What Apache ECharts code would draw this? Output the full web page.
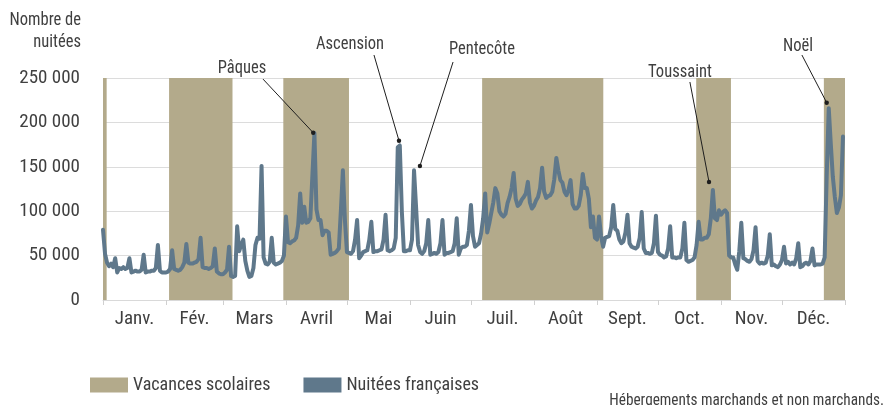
<!DOCTYPE html>
<html>
<head>
<meta charset="utf-8">
<script src="https://cdn.jsdelivr.net/npm/echarts@6/dist/echarts.min.js"></script>
<style>
  html, body { margin: 0; padding: 0; background: #ffffff; }
  #graphique { width: 886px; height: 405px; }
</style>
</head>
<body>
<div id="graphique"></div>
<script>
// Mois de l'année (2022) et libellés de l'axe horizontal
const mois = ['Janv.', 'Fév.', 'Mars', 'Avril', 'Mai', 'Juin', 'Juil.', 'Août', 'Sept.', 'Oct.', 'Nov.', 'Déc.'];
const joursParMois = [31, 28, 31, 30, 31, 30, 31, 31, 30, 31, 30, 31];

// Graduations de l'axe vertical
const graduationsY = [0, 50000, 100000, 150000, 200000, 250000];

// Nuitées françaises, une valeur par jour
const janvier = [79000, 52000, 42000, 38000, 41000, 37000, 47000, 31000, 36000, 35000, 37000, 35000, 36000, 47000, 31000, 32000, 33000, 32000, 32000, 34000, 51000, 31000, 32000, 32000, 33000, 33000, 36000, 62000, 33000, 31000, 31000];
const fevrier = [31000, 32000, 35000, 56000, 35000, 34000, 33000, 34000, 37000, 42000, 63000, 42000, 41000, 41000, 42000, 43000, 46000, 70000, 37000, 36000, 36000, 35000, 36000, 38000, 58000, 32000, 30000, 29000];
const mars = [29000, 31000, 34000, 60000, 27000, 26000, 27000, 83000, 55000, 62000, 68000, 44000, 33000, 26000, 27000, 36000, 62000, 70000, 69000, 151000, 48000, 41000, 40000, 43000, 70000, 42000, 40000, 41000, 42000, 44000, 50000];
const avril = [94000, 65000, 64000, 66000, 67000, 70000, 84000, 120000, 87000, 105000, 87000, 88000, 92000, 140000, 188000, 102000, 90000, 90000, 73000, 78000, 78000, 76000, 51000, 52000, 53000, 55000, 58000, 100000, 146000, 90000];
const mai = [54000, 53000, 52000, 55000, 68000, 90000, 47000, 50000, 54000, 55000, 56000, 68000, 88000, 54000, 55000, 55000, 56000, 57000, 68000, 96000, 56000, 55000, 56000, 58000, 70000, 172000, 174000, 100000, 55000, 55000, 56000];
const juin = [56000, 68000, 146000, 105000, 62000, 54000, 52000, 55000, 64000, 90000, 51000, 52000, 53000, 52000, 54000, 64000, 90000, 51000, 53000, 53000, 54000, 55000, 64000, 92000, 51000, 58000, 60000, 60000, 62000, 78000];
const juillet = [107000, 72000, 60000, 62000, 64000, 75000, 92000, 120000, 76000, 86000, 98000, 110000, 126000, 120000, 100000, 96000, 94000, 97000, 109000, 116000, 126000, 143000, 114000, 106000, 108000, 113000, 116000, 120000, 133000, 110000, 103000];
const aout = [106000, 112000, 116000, 126000, 149000, 122000, 115000, 117000, 118000, 122000, 136000, 160000, 146000, 135000, 132000, 122000, 118000, 124000, 135000, 108000, 103000, 103000, 106000, 118000, 142000, 126000, 126000, 114000, 82000, 94000, 70000];
const septembre = [68000, 94000, 72000, 60000, 70000, 71000, 72000, 82000, 107000, 80000, 78000, 68000, 64000, 66000, 76000, 96000, 64000, 60000, 59000, 58000, 60000, 70000, 99000, 58000, 53000, 53000, 52000, 53000, 64000, 95000];
const octobre = [54000, 51000, 50000, 48000, 49000, 58000, 83000, 48000, 48000, 47000, 48000, 48000, 58000, 87000, 45000, 43000, 44000, 45000, 48000, 62000, 88000, 68000, 68000, 70000, 70000, 74000, 92000, 124000, 92000, 90000, 101000];
const novembre = [96000, 99000, 101000, 98000, 50000, 48000, 48000, 40000, 34000, 55000, 87000, 47000, 46000, 44000, 43000, 46000, 56000, 82000, 44000, 41000, 42000, 41000, 42000, 50000, 74000, 39000, 40000, 38000, 37000, 40000];
const decembre = [45000, 60000, 41000, 43000, 40000, 42000, 40000, 47000, 64000, 37000, 38000, 41000, 42000, 40000, 44000, 58000, 39000, 40000, 40000, 40000, 41000, 48000, 140000, 216000, 176000, 139000, 116000, 98000, 104000, 118000, 184000];

// Périodes de vacances scolaires (jour de début, jour de fin, comptés depuis le 1er janvier)
const vacancesScolaires = [[0, 1.8], [32.5, 63.7], [88.7, 121], [186.5, 246.1], [291.8, 308.9], [354.6, 365]];

// Événements annotés : point repéré sur la courbe (jour, nuitées)
const evenements = ['Pâques', 'Ascension', 'Pentecôte', 'Toussaint', 'Noël'];
const evenementsJour = [103.4, 145.6, 155.9, 298.1, 356];
const evenementsValeur = [188400, 179400, 150900, 132900, 222200];

// Placement des étiquettes d'annotation, en unités des axes
const etiquettesJour = [68.4, 121.5, 186.4, 283.8, 341.9];
const etiquettesValeur = [261000, 288300, 282600, 256700, 286000];
const departsTraitJour = [78.7, 133.3, 172.2, 288.7, 343.8];
const departsTraitValeur = [248800, 275900, 268000, 245500, 275900];

const police = "'Roboto Condensed', 'Liberation Sans Narrow', 'Arial Narrow', Roboto, sans-serif";
const couleurTexte = '#404040';
const couleurVacances = '#b3aa8b';
const couleurCourbe = '#5f788b';
const serrage = 0.87; // resserrement horizontal des textes libres

const nuitees = [].concat(janvier, fevrier, mars, avril, mai, juin, juillet, aout, septembre, octobre, novembre, decembre);
const donneesCourbe = nuitees.map((v, i) => [i, v]);

// Débuts et milieux de mois sur l'axe des jours
const debutsMois = [0];
joursParMois.forEach((n, i) => debutsMois.push(debutsMois[i] + n));
const milieuxMois = joursParMois.map((n, i) => debutsMois[i] + n / 2);

const formatMilliers = v => String(v).replace(/\B(?=(\d{3})+(?!\d))/g, ' ');

const chart = echarts.init(document.getElementById('graphique'), null, { renderer: 'canvas' });

chart.setOption({
  animation: false,
  textStyle: { fontFamily: police },
  grid: { left: 103, right: 41, top: 78, bottom: 105, containLabel: false },
  legend: {
    left: 85,
    top: 371,
    icon: 'rect',
    itemWidth: 38,
    itemHeight: 15,
    itemGap: 33,
    selectedMode: false,
    textStyle: { fontFamily: police, fontSize: 18, color: couleurTexte },
    data: ['Vacances scolaires', 'Nuitées françaises']
  },
  xAxis: {
    type: 'value',
    min: 0,
    max: 365,
    splitLine: { show: false },
    axisLine: { show: true, lineStyle: { color: '#d9d9d9', width: 1 } },
    axisTick: { show: true, customValues: debutsMois, length: 5, lineStyle: { color: '#d0d0d0' } },
    axisLabel: {
      customValues: milieuxMois,
      formatter: v => mois[milieuxMois.indexOf(v)] || '',
      fontFamily: police,
      fontSize: 19,
      color: couleurTexte,
      margin: 10
    }
  },
  yAxis: {
    type: 'value',
    min: graduationsY[0],
    max: graduationsY[graduationsY.length - 1],
    interval: graduationsY[1] - graduationsY[0],
    axisLine: { show: false },
    axisTick: { show: false },
    splitLine: { lineStyle: { color: '#dcdcdc', width: 1 } },
    axisLabel: {
      formatter: formatMilliers,
      fontFamily: police,
      fontSize: 19,
      color: couleurTexte,
      margin: 23
    }
  },
  series: [
    {
      name: 'Vacances scolaires',
      type: 'line',
      data: [],
      z: 1,
      itemStyle: { color: couleurVacances },
      lineStyle: { color: couleurVacances },
      markArea: {
        silent: true,
        itemStyle: { color: couleurVacances, opacity: 1 },
        data: vacancesScolaires.map(p => [{ xAxis: p[0] }, { xAxis: p[1] }])
      }
    },
    {
      name: 'Nuitées françaises',
      type: 'line',
      z: 3,
      data: donneesCourbe,
      showSymbol: false,
      symbol: 'none',
      itemStyle: { color: couleurCourbe },
      lineStyle: { color: couleurCourbe, width: 4, join: 'round', cap: 'round' }
    }
  ]
});

// Textes libres : titre de l'axe vertical et source
const textesLibres = [
  {
    type: 'text', id: 'titreAxe', silent: true,
    x: 81, y: 9, scaleX: serrage,
    style: {
      text: 'Nombre de\nnuitées', align: 'right', verticalAlign: 'top',
      lineHeight: 22, fill: couleurTexte, fontFamily: police, fontSize: 19
    }
  },
  {
    type: 'text', id: 'source', silent: true,
    x: 884, y: 392, scaleX: 0.9,
    style: {
      text: 'Hébergements marchands et non marchands.', align: 'right', verticalAlign: 'top',
      fill: couleurTexte, fontFamily: police, fontSize: 17
    }
  }
];

// Annotations : trait de rappel, point et libellé, placés via l'échelle du graphique
const px = (j, v) => chart.convertToPixel({ gridIndex: 0 }, [j, v]);
const annotations = [];
evenements.forEach((nom, i) => {
  const point = px(evenementsJour[i], evenementsValeur[i]);
  const depart = px(departsTraitJour[i], departsTraitValeur[i]);
  const etiquette = px(etiquettesJour[i], etiquettesValeur[i]);
  annotations.push({
    type: 'line', id: 'trait' + i, z: 10, silent: true,
    shape: { x1: depart[0], y1: depart[1], x2: point[0], y2: point[1] },
    style: { stroke: '#1e1e1e', lineWidth: 1 }
  });
  annotations.push({
    type: 'circle', id: 'point' + i, z: 11, silent: true,
    shape: { cx: point[0], cy: point[1], r: 2.2 },
    style: { fill: '#1e1e1e' }
  });
  annotations.push({
    type: 'text', id: 'libelle' + i, z: 11, silent: true,
    x: etiquette[0], y: etiquette[1], scaleX: serrage,
    style: {
      text: nom, align: 'center', verticalAlign: 'middle',
      fill: couleurTexte, fontFamily: police, fontSize: 19
    }
  });
});
chart.setOption({ graphic: textesLibres.concat(annotations) });
</script>
</body>
</html>
